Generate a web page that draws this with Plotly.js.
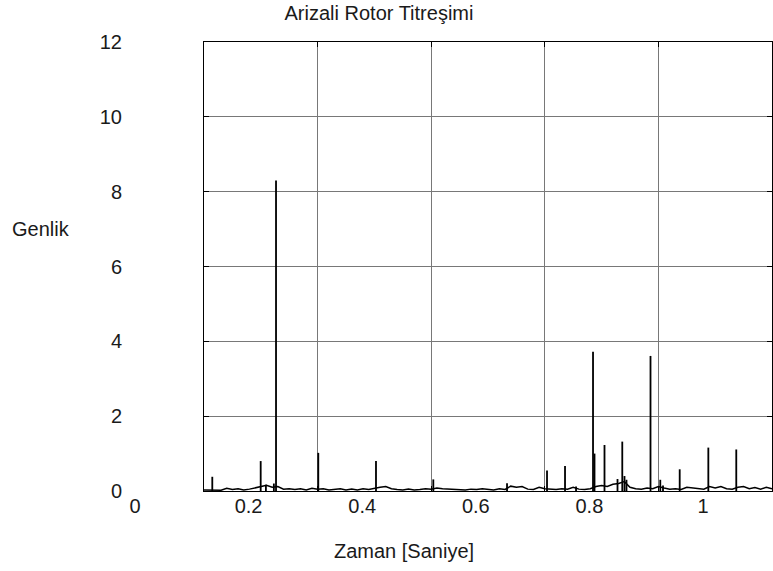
<!DOCTYPE html>
<html>
<head>
<meta charset="utf-8">
<script src="https://cdn.plot.ly/plotly-3.0.1.min.js"></script>
<style>html,body{margin:0;padding:0;background:#fff;}#chart{width:773px;height:571px;}</style>
</head>
<body>
<div id="chart"></div>
<script>
// Peaks of the vibration signal (time in seconds, amplitude)
var peakTime = [0.0146, 0.0998, 0.109, 0.123, 0.1268, 0.2012, 0.3028, 0.4037, 0.5335, 0.6039, 0.6356, 0.655, 0.6849, 0.6875, 0.7051, 0.728, 0.7364, 0.7403, 0.7438, 0.7861, 0.8033, 0.8081, 0.8375, 0.8879, 0.9371];
var peakAmp  = [0.38, 0.80, 0.17, 0.20, 8.30, 1.02, 0.80, 0.31, 0.21, 0.55, 0.67, 0.12, 3.72, 1.00, 1.23, 0.32, 1.32, 0.40, 0.30, 3.61, 0.30, 0.15, 0.58, 1.16, 1.11];

// Low-level background of the signal
var floorTime = [0.00,0.01,0.02,0.03,0.04,0.05,0.06,0.07,0.08,0.09,
                 0.10,0.11,0.12,0.13,0.14,0.15,0.16,0.17,0.18,0.19,
                 0.20,0.21,0.22,0.23,0.24,0.25,0.26,0.27,0.28,0.29,
                 0.30,0.31,0.32,0.33,0.34,0.35,0.36,0.37,0.38,0.39,
                 0.40,0.41,0.42,0.43,0.44,0.45,0.46,0.47,0.48,0.49,
                 0.50,0.51,0.52,0.53,0.54,0.55,0.56,0.57,0.58,0.59,
                 0.60,0.61,0.62,0.63,0.64,0.65,0.66,0.67,0.68,0.69,
                 0.70,0.71,0.72,0.73,0.74,0.75,0.76,0.77,0.78,0.79,
                 0.80,0.81,0.82,0.83,0.84,0.85,0.86,0.87,0.88,0.89,
                 0.90,0.91,0.92,0.93,0.94,0.95,0.96,0.97,0.98,0.99,1.00];
var floorAmp  = [0.03,0.02,0.03,0.02,0.07,0.04,0.06,0.03,0.05,0.08,
                 0.12,0.15,0.10,0.12,0.05,0.06,0.04,0.06,0.03,0.07,
                 0.05,0.06,0.03,0.05,0.06,0.03,0.05,0.03,0.06,0.04,
                 0.08,0.10,0.12,0.06,0.04,0.03,0.05,0.03,0.04,0.06,
                 0.05,0.08,0.06,0.05,0.03,0.04,0.03,0.05,0.04,0.06,
                 0.04,0.03,0.06,0.04,0.13,0.10,0.12,0.05,0.04,0.10,
                 0.06,0.05,0.04,0.06,0.05,0.10,0.05,0.04,0.06,0.12,
                 0.15,0.12,0.18,0.20,0.25,0.10,0.06,0.05,0.08,0.06,
                 0.12,0.08,0.05,0.06,0.04,0.10,0.08,0.06,0.05,0.12,
                 0.08,0.12,0.06,0.05,0.10,0.12,0.06,0.09,0.05,0.10,0.06];

var xTickVals = [0, 0.2, 0.4, 0.6, 0.8, 1];
var xTickText = ['0', '0.2', '0.4', '0.6', '0.8', '1'];
var yTickVals = [0, 2, 4, 6, 8, 10, 12];
var yTickText = ['0', '2', '4', '6', '8', '10', '12'];

var FONT = 'Liberation Sans, Arial, sans-serif';
var TXT = '#1a1a1a';

var traces = [
  {type: 'scatter', mode: 'lines', x: floorTime, y: floorAmp,
   line: {color: '#000', width: 1.5}, hoverinfo: 'skip'},
  {type: 'bar', x: peakTime, y: peakAmp, width: 0.0032,
   marker: {color: '#000', line: {width: 0}}, hoverinfo: 'skip'}
];

var axisCommon = {
  showline: true, linecolor: '#000', linewidth: 1, mirror: 'ticks',
  ticks: 'inside', ticklen: 5, tickcolor: '#000', tickwidth: 1,
  showgrid: true, gridcolor: '#787878', gridwidth: 1, zeroline: false,
  tickfont: {family: FONT, size: 20, color: TXT}
};

var layout = {
  width: 773, height: 571,
  margin: {l: 204, r: 1, t: 42, b: 80, pad: 0},
  paper_bgcolor: '#fff', plot_bgcolor: '#fff',
  showlegend: false,
  title: {text: 'Arizali Rotor Titreşimi', xref: 'container', yref: 'container',
          x: 0.4903, xanchor: 'center', y: 0.977, yanchor: 'middle',
          font: {family: FONT, size: 20, color: TXT}},
  xaxis: Object.assign({}, axisCommon, {
    range: [0, 1], tickmode: 'array', tickvals: xTickVals, ticktext: xTickText,
    ticklabelshift: -69, ticklabelstandoff: -3
  }),
  yaxis: Object.assign({}, axisCommon, {
    range: [0, 12], tickmode: 'array', tickvals: yTickVals, ticktext: yTickText,
    ticklabelstandoff: 77
  }),
  annotations: [
    {text: 'Genlik', xref: 'paper', yref: 'paper', x: -0.287, y: 0.5835,
     xanchor: 'center', yanchor: 'middle', showarrow: false,
     font: {family: FONT, size: 20, color: TXT}},
    {text: 'Zaman [Saniye]', xref: 'paper', yref: 'paper', x: 0.352, y: -0.1336,
     xanchor: 'center', yanchor: 'middle', showarrow: false,
     font: {family: FONT, size: 20, color: TXT}}
  ]
};

Plotly.newPlot('chart', traces, layout, {staticPlot: true, displayModeBar: false});
</script>
</body>
</html>
